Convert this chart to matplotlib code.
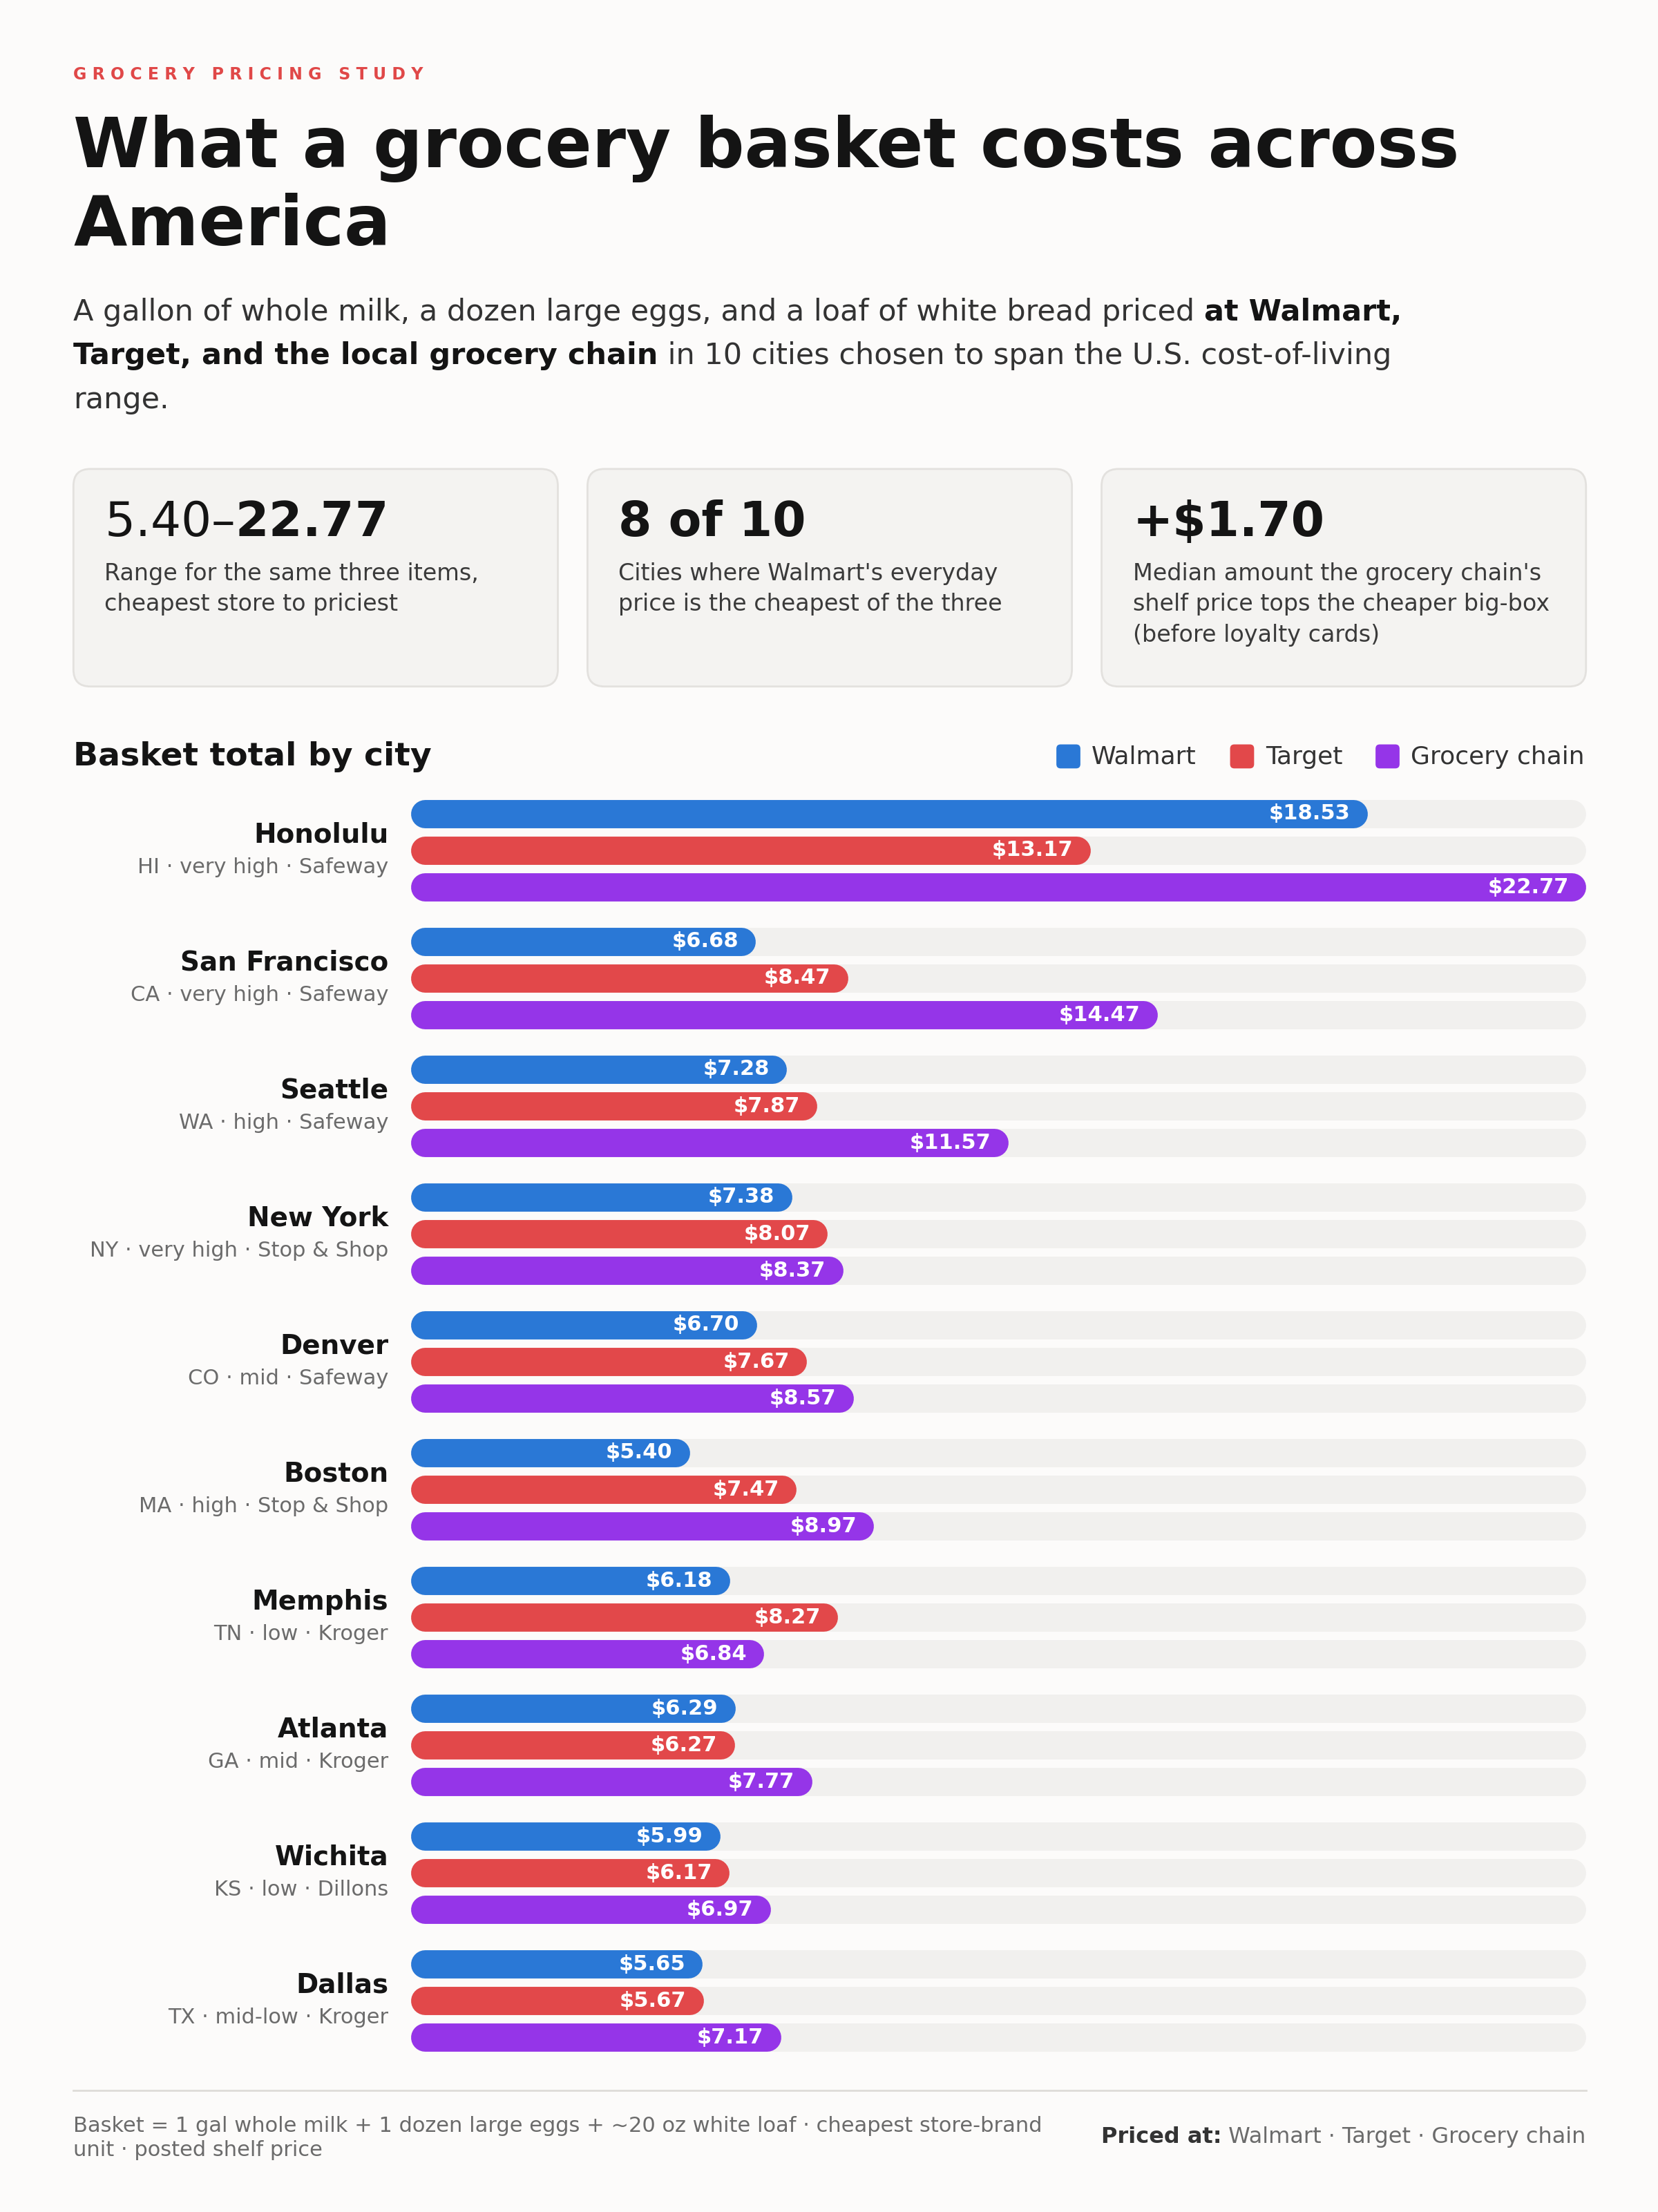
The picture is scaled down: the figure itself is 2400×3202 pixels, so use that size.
import matplotlib
matplotlib.use("Agg")
import matplotlib.pyplot as plt
from matplotlib.patches import FancyBboxPatch

plt.rcParams["font.family"] = ["DejaVu Sans"]

cities = ["Honolulu", "San Francisco", "Seattle", "New York", "Denver",
          "Boston", "Memphis", "Atlanta", "Wichita", "Dallas"]
city_info = ["HI · very high · Safeway", "CA · very high · Safeway", "WA · high · Safeway",
             "NY · very high · Stop & Shop", "CO · mid · Safeway", "MA · high · Stop & Shop",
             "TN · low · Kroger", "GA · mid · Kroger", "KS · low · Dillons", "TX · mid-low · Kroger"]
walmart = [18.53, 6.68, 7.28, 7.38, 6.70, 5.40, 6.18, 6.29, 5.99, 5.65]
target = [13.17, 8.47, 7.87, 8.07, 7.67, 7.47, 8.27, 6.27, 6.17, 5.67]
grocery = [22.77, 14.47, 11.57, 8.37, 8.57, 8.97, 6.84, 7.77, 6.97, 7.17]
stores = ["Walmart", "Target", "Grocery chain"]
colors = ["#2a78d6", "#e2484a", "#9535e8"]

cards = [("$5.40–$22.77", "Range for the same three items,\ncheapest store to priciest"),
         ("8 of 10", "Cities where Walmart's everyday\nprice is the cheapest of the three"),
         ("+$1.70", "Median amount the grocery chain's\nshelf price tops the cheaper big-box\n(before loyalty cards)")]

W, H = 1174, 1566
BG = "#fcfbfa"
fig = plt.figure(figsize=(12, 16.01), dpi=200, facecolor=BG)
ov = fig.add_axes([0, 0, 1, 1])
ov.set_xlim(0, W)
ov.set_ylim(H, 0)
ov.axis("off")
ov.set_zorder(0)

DARK = "#141414"
GRAY = "#6b6b6b"

ov.text(52, 53, "G R O C E R Y   P R I C I N G   S T U D Y", color="#e04848", fontsize=8.5,
        fontweight="bold", va="center")
ov.text(52, 105, "What a grocery basket costs across", fontsize=36, fontweight="bold",
        color=DARK, va="center")
ov.text(52, 160, "America", fontsize=36, fontweight="bold", color=DARK, va="center")

renderer = fig.canvas.get_renderer()


def runs(x, y, parts, size, color):
    for s, bold in parts:
        t = ov.text(x, y, s, fontsize=size, fontweight="bold" if bold else "normal",
                    color=DARK if bold else color, va="center")
        bb = t.get_window_extent(renderer)
        x += bb.width / fig.dpi / 12 * W


sub_c = "#333333"
runs(52, 221, [("A gallon of whole milk, a dozen large eggs, and a loaf of white bread priced ", False),
               ("at Walmart,", True)], 15.5, sub_c)
runs(52, 252, [("Target, and the local grocery chain", True),
               (" in 10 cities chosen to span the U.S. cost-of-living", False)], 15.5, sub_c)
runs(52, 283, [("range.", False)], 15.5, sub_c)

for i, (big, desc) in enumerate(cards):
    x0 = 52 + i * 364
    ov.add_patch(FancyBboxPatch((x0, 332), 343, 154, boxstyle="round,pad=0,rounding_size=12",
                                fc="#f4f3f1", ec="#e3e1de", lw=1))
    ov.text(x0 + 22, 370, big, fontsize=25, fontweight="bold", color=DARK, va="center")
    ov.text(x0 + 22, 398, desc, fontsize=12, color="#3a3a3a", va="top", linespacing=1.45)

ov.text(52, 536, "Basket total by city", fontsize=17, fontweight="bold", color=DARK, va="center")
leg_x = [748, 871, 974]
for lx, name, c in zip(leg_x, stores, colors):
    ov.add_patch(FancyBboxPatch((lx, 527), 17, 17, boxstyle="round,pad=0,rounding_size=3",
                                fc=c, ec="none"))
    ov.text(lx + 25, 536, name, fontsize=13, color="#333333", va="center")

# bars
top, bot = 566, 1453
ax = fig.add_axes([291 / W, 1 - bot / H, (1123 - 291) / W, (bot - top) / H])
ax.set_facecolor("none")
ax.axis("off")
ax.set_xlim(0, max(grocery))
ax.set_ylim(bot, top)
lw = 20 * 0.736
r = 10 / 832 * max(grocery)
series = [walmart, target, grocery]
for i, city in enumerate(cities):
    gy = 576 + 90.5 * i
    ov.text(275, gy + 15, city, fontsize=14, fontweight="bold", color=DARK, ha="right", va="center")
    ov.text(275, gy + 38, city_info[i], fontsize=11, color=GRAY, ha="right", va="center")
    for j, vals in enumerate(series):
        y = gy + 26 * j
        v = vals[i]
        ax.plot([r, max(grocery) - r], [y, y], color="#f1f0ee", lw=lw, solid_capstyle="round", zorder=1)
        ax.plot([r, v - r], [y, y], color=colors[j], lw=lw, solid_capstyle="round", zorder=2)
        ax.annotate(f"${v:.2f}", (v, y), xytext=(-9, 0), textcoords="offset points",
                    ha="right", va="center", color="white", fontsize=11, fontweight="bold", zorder=3)

ov.plot([52, 1123], [1480, 1480], color="#dedcd8", lw=1)
ov.text(52, 1505, "Basket = 1 gal whole milk + 1 dozen large eggs + ~20 oz white loaf · cheapest store-brand",
        fontsize=11, color=GRAY, va="center")
ov.text(52, 1522, "unit · posted shelf price", fontsize=11, color=GRAY, va="center")
t = ov.text(1123, 1513, " Walmart · Target · Grocery chain", fontsize=11.5, color=GRAY,
            ha="right", va="center")
bb = t.get_window_extent(renderer)
xl = (bb.x0) / fig.dpi / 12 * W
ov.text(xl, 1513, "Priced at:", fontsize=11.5, fontweight="bold", color="#333333", ha="right", va="center")

fig.savefig("out.png", dpi=200, facecolor=BG)
